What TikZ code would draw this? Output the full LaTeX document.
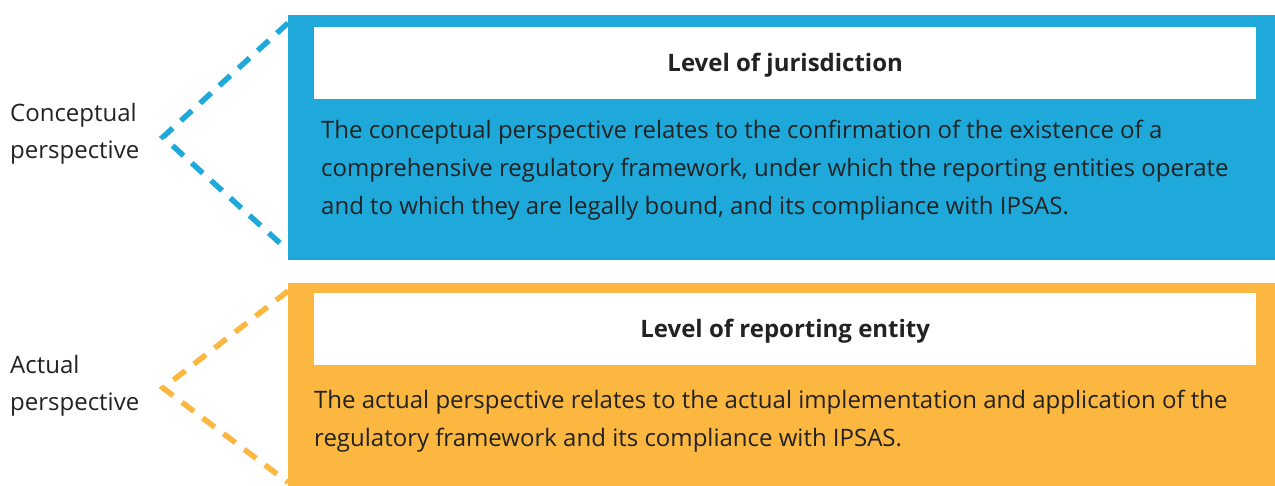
\documentclass[tikz,border=0pt]{standalone}
\usepackage{fontspec}
\setmainfont{Open Sans}
\usetikzlibrary{positioning,calc}

\definecolor{jurblue}{HTML}{1EA9DA}
\definecolor{entorange}{HTML}{FBB740}
\definecolor{txtgray}{HTML}{222222}

\begin{document}
\begin{tikzpicture}
  [x=1pt,y=-1pt,every node/.style={text=txtgray,inner sep=0pt},
   levelbox/.style={anchor=north west,minimum width=987pt},
   headbox/.style={fill=white,anchor=north west,minimum width=942pt,minimum height=72pt,
     text height=20pt,text depth=3pt,font=\fontsize{24}{28}\selectfont\bfseries},
   bodytext/.style={anchor=north west,align=left,font=\fontsize{24}{38}\selectfont},
   sidetext/.style={anchor=west,align=left,font=\fontsize{24}{37}\selectfont},
   link/.style={dash pattern=on 15pt off 11pt,line width=5.5pt}]
  \useasboundingbox (0,0) rectangle (1275,486);

  % jurisdiction level
  \node[levelbox,fill=jurblue,minimum height=245pt] (jur) at (288,15) {};
  \node[headbox] (jurhead) at (314,27) {Level of jurisdiction};
  \node[bodytext] (jurbody) at (321,120) {The conceptual perspective relates to the confirmation of the existence of a\\
    comprehensive regulatory framework, under which the reporting entities operate\\
    and to which they are legally bound, and its compliance with IPSAS.};
  \node[sidetext] (concept) at (10,134) {Conceptual\\perspective};
  \coordinate (capex) at (163,137);
  \draw[link,jurblue] ($(jur.north west)+(0,8)$) -- (capex) -- ($(jur.south west)+(0,-10)$);

  % reporting entity level
  \node[levelbox,fill=entorange,minimum height=203pt] (ent) at (288,283) {};
  \node[headbox] (enthead) at (314,293) {Level of reporting entity};
  \node[bodytext] (entbody) at (314,390) {The actual perspective relates to the actual implementation and application of the\\
    regulatory framework and its compliance with IPSAS.};
  \node[sidetext] (actual) at (10,386) {Actual\\perspective};
  \coordinate (aapex) at (163,388);
  \draw[link,entorange] ($(ent.north west)+(0,8)$) -- (aapex) -- ($(ent.south west)+(0,-4)$);
\end{tikzpicture}
\end{document}
